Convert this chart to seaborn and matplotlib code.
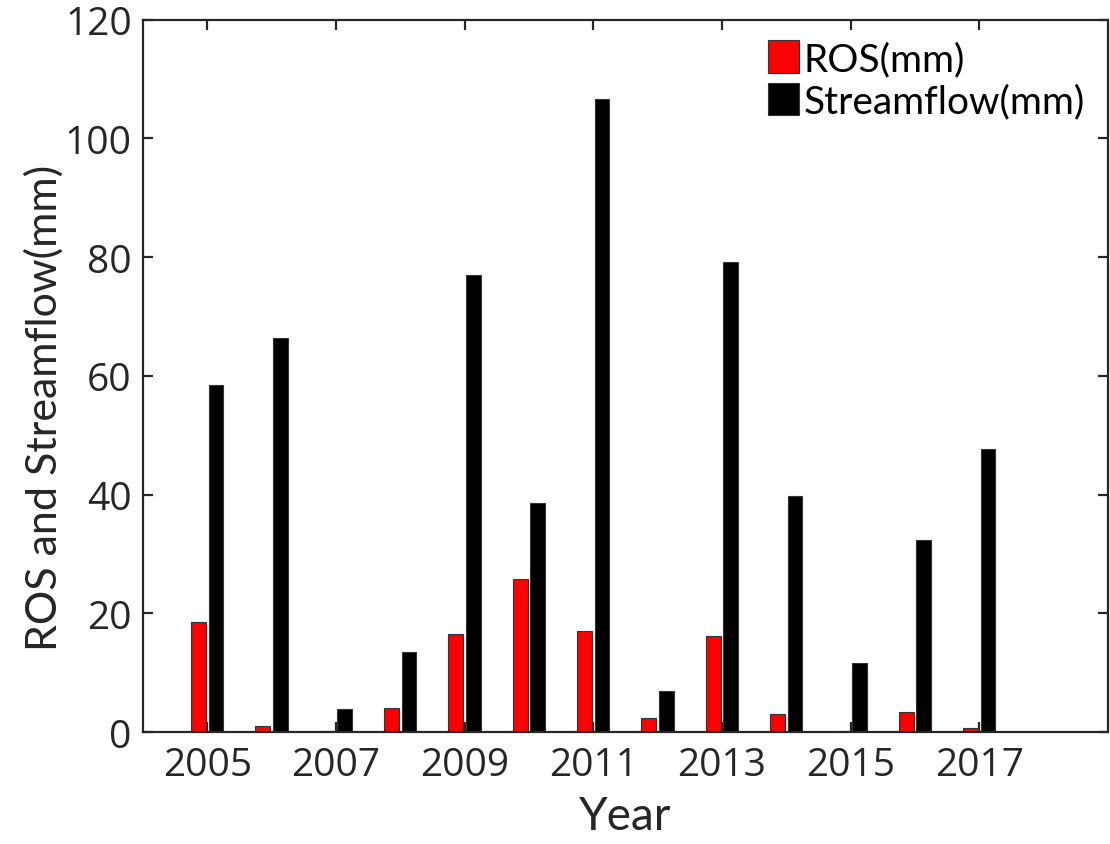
import matplotlib
matplotlib.use("Agg")
import matplotlib.pyplot as plt
import seaborn as sns
import pandas as pd

years = [2005, 2006, 2007, 2008, 2009, 2010, 2011, 2012, 2013, 2014, 2015, 2016, 2017]
ros = [18.6, 1.0, 0.2, 4.0, 16.5, 25.8, 17.1, 2.4, 16.2, 3.1, 0.1, 3.4, 0.6]
streamflow = [58.5, 66.3, 3.9, 13.4, 77.0, 38.6, 106.6, 6.9, 79.2, 39.8, 11.6, 32.4, 47.6]
series_names = ["ROS(mm)", "Streamflow(mm)"]
xticks = [2005, 2007, 2009, 2011, 2013, 2015, 2017]
yticks = [0, 20, 40, 60, 80, 100, 120]

df = pd.DataFrame({
    "Year": years * 2,
    "Value": ros + streamflow,
    "Series": [series_names[0]] * len(years) + [series_names[1]] * len(years),
})

sns.set_style("white")
plt.rcParams["font.family"] = ["Open Sans", "DejaVu Sans"]

dark = "#262626"
fig = plt.figure(figsize=(11.1, 8.45), dpi=100)
ax = fig.add_axes([0.1288, 0.1325, 0.8694, 0.843])

sns.barplot(data=df, x="Year", y="Value", hue="Series", hue_order=series_names,
            native_scale=True, width=0.54, gap=0.14, saturation=1,
            palette={series_names[0]: "#ff0000", series_names[1]: "#000000"},
            edgecolor="#333333", linewidth=0.8, errorbar=None, ax=ax)

ax.set_xlim(2004, 2019)
ax.set_ylim(0, 120)
ax.set_xticks(xticks)
ax.set_xticklabels([str(t) for t in xticks])
ax.set_yticks(yticks)
ax.set_yticklabels([str(t) for t in yticks])

for s in ax.spines.values():
    s.set_visible(True)
    s.set_color(dark)
    s.set_linewidth(1.6)

ax.tick_params(axis="both", which="major", direction="in", length=7, width=1.6,
               color=dark, labelcolor=dark, labelsize=28,
               top=True, right=True, bottom=True, left=True)
ax.tick_params(axis="x", pad=10)
ax.tick_params(axis="y", pad=8)

ax.set_xlabel("Year", fontsize=33, color=dark, family=["Lato", "DejaVu Sans"])
ax.xaxis.set_label_coords(0.5, -0.088)
ax.set_ylabel("ROS and Streamflow(mm)", fontsize=31, color=dark, family=["Lato", "DejaVu Sans"])
ax.yaxis.set_label_coords(-0.082, 0.457)

handles, labels = ax.get_legend_handles_labels()
if ax.get_legend() is not None:
    ax.get_legend().remove()
leg = ax.legend(handles, labels, loc="upper left", bbox_to_anchor=(0.64, 0.982),
                frameon=False, prop={"family": ["Lato", "DejaVu Sans"], "size": 28},
                handlelength=0.8, handleheight=0.9, handletextpad=0.1,
                labelspacing=0.15, borderpad=0.2, borderaxespad=0)
for t in leg.get_texts():
    t.set_color("#000000")

fig.savefig("out.png", dpi=100)
